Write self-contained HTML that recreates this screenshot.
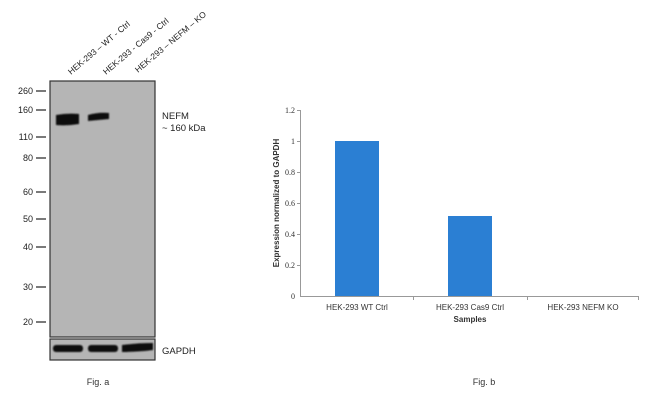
<!DOCTYPE html>
<html><head><style>
body{margin:0;background:#fff;width:650px;height:410px;position:relative;overflow:hidden;font-family:"Liberation Sans",Arial,sans-serif;}
</style></head><body>
<svg width="650" height="410" style="position:absolute;left:0;top:0" font-family="Liberation Sans, Arial, sans-serif">
<defs><filter id="b"><feGaussianBlur stdDeviation="0.8"/></filter></defs>
<rect x="50" y="81" width="105" height="256" fill="#b5b5b5" stroke="#333" stroke-width="1.2"/>
<rect x="50" y="339" width="105" height="21" fill="#b5b5b5" stroke="#333" stroke-width="1.2"/>
<g filter="url(#b)" fill="#111">
<path d="M56 115 Q67 113 79 114 L79 124 Q67 126 56 125 Z"/>
<path d="M88 115 Q98 112 109 113 L109 119 Q98 120 88 121 Z"/>
<rect x="53" y="345" width="30" height="7" rx="3"/>
<rect x="88" y="345" width="30" height="7" rx="3"/>
<path d="M122 345 Q138 343 153 343 L153 350 Q138 352 122 352 Z"/>
</g>
<g font-size="9" fill="#222" text-anchor="end">
<text x="33" y="94">260</text><text x="33" y="113">160</text><text x="33" y="140">110</text>
<text x="33" y="161">80</text><text x="33" y="195">60</text><text x="33" y="222">50</text>
<text x="33" y="250">40</text><text x="33" y="290">30</text><text x="33" y="325">20</text>
</g>
<g stroke="#222" stroke-width="1.2">
<line x1="36" x2="46" y1="91" y2="91"/><line x1="36" x2="46" y1="110" y2="110"/><line x1="36" x2="46" y1="137" y2="137"/>
<line x1="36" x2="46" y1="158" y2="158"/><line x1="36" x2="46" y1="192" y2="192"/><line x1="36" x2="46" y1="219" y2="219"/>
<line x1="36" x2="46" y1="247" y2="247"/><line x1="36" x2="46" y1="287" y2="287"/><line x1="36" x2="46" y1="322" y2="322"/>
</g>
<g font-size="8.5" fill="#222">
<text transform="translate(71,75) rotate(-40)">HEK-293 – WT - Ctrl</text>
<text transform="translate(106,75) rotate(-40)">HEK-293 - Cas9 - Ctrl</text>
<text transform="translate(138,73) rotate(-40)">HEK-293 – NEFM – KO</text>
</g>
<g font-size="9.5" fill="#222">
<text x="162" y="119">NEFM</text><text x="162" y="131">~ 160 kDa</text>
<text x="162" y="354">GAPDH</text>
</g>
<text x="98" y="385" font-size="9" fill="#333" text-anchor="middle">Fig. a</text>
<text x="484" y="385" font-size="9" fill="#333" text-anchor="middle">Fig. b</text>
<rect x="335" y="141" width="44" height="156" fill="#2b7fd3"/>
<rect x="448" y="216" width="44" height="81" fill="#2b7fd3"/>
<g stroke="#999" stroke-width="1">
<line x1="300.5" y1="110" x2="300.5" y2="297"/>
<line x1="300" y1="296.5" x2="639" y2="296.5"/>
<line x1="297" x2="300" y1="110.5" y2="110.5"/><line x1="297" x2="300" y1="141.5" y2="141.5"/>
<line x1="297" x2="300" y1="172.5" y2="172.5"/><line x1="297" x2="300" y1="203.5" y2="203.5"/>
<line x1="297" x2="300" y1="234.5" y2="234.5"/><line x1="297" x2="300" y1="265.5" y2="265.5"/>
<line x1="413.5" x2="413.5" y1="296" y2="300"/><line x1="527.5" x2="527.5" y1="296" y2="300"/><line x1="638.5" x2="638.5" y1="296" y2="300"/>
</g>
<g font-family="Liberation Serif, serif" font-size="8" fill="#333" text-anchor="end">
<text x="295" y="113">1.2</text><text x="295" y="144">1</text><text x="295" y="175">0.8</text>
<text x="295" y="206">0.6</text><text x="295" y="237">0.4</text><text x="295" y="268">0.2</text><text x="295" y="299">0</text>
</g>
<g font-size="8" fill="#333" text-anchor="middle">
<text x="357" y="310">HEK-293 WT Ctrl</text>
<text x="470" y="310">HEK-293 Cas9 Ctrl</text>
<text x="583" y="310">HEK-293 NEFM KO</text>
<text x="470" y="322" font-weight="bold">Samples</text>
<text transform="translate(279,203) rotate(-90)" font-weight="bold">Expression  normalized to GAPDH</text>
</g>
</svg>
</body></html>
